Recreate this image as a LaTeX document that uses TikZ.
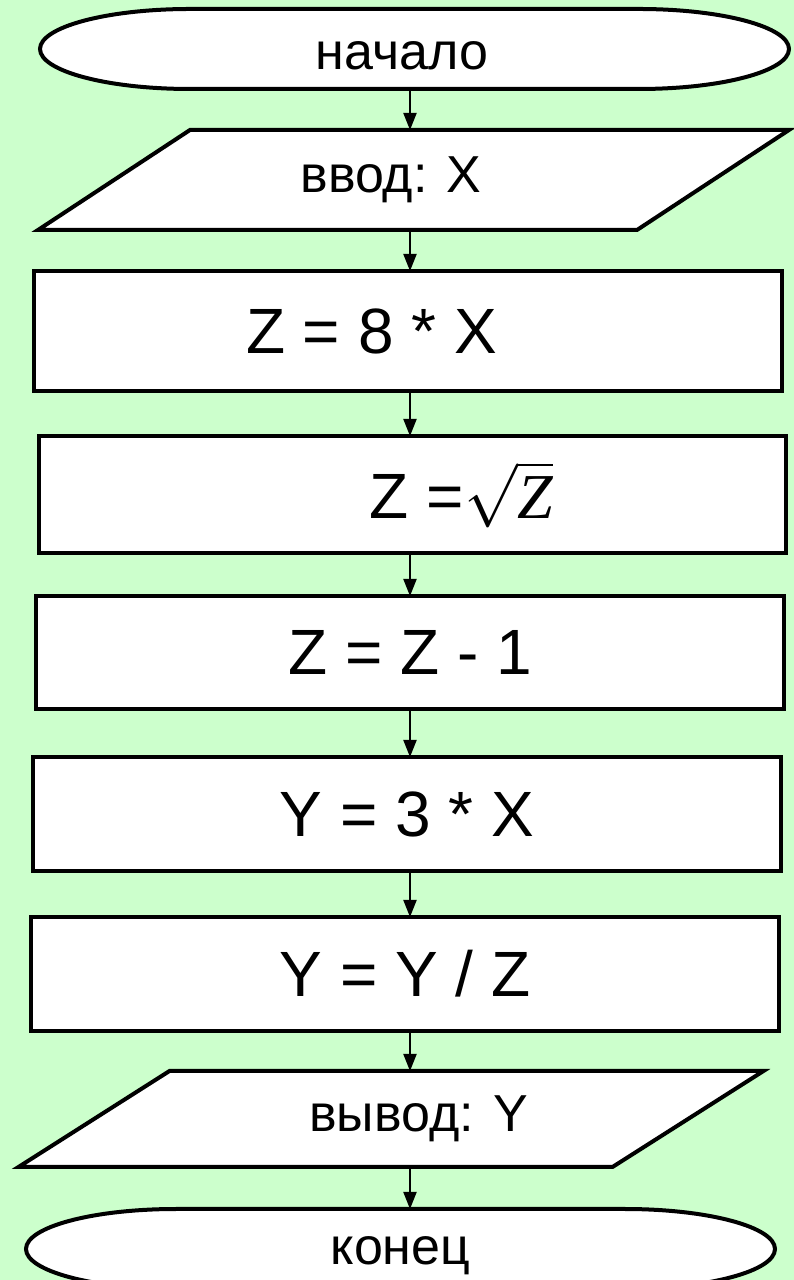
\RequirePackage{fix-cm}
\documentclass[tikz,border=0pt]{standalone}
\usepackage{fontspec}
\setmainfont{Liberation Sans}
\newfontfamily\serifface{Liberation Serif}
\usetikzlibrary{arrows.meta}
\definecolor{flowBack}{HTML}{CCFFCC}
\pgfdeclarelayer{shapes}
\pgfsetlayers{shapes,main}

% outline of a terminal (elliptic ends) around a named node
\newcommand{\terminalshape}[1]{%
  \draw[outline] ([xshift=150pt]#1.north west) -- ([xshift=-150pt]#1.north east)
    arc[start angle=90, end angle=-90, x radius=150pt, y radius=40pt]
    -- ([xshift=150pt]#1.south west)
    arc[start angle=270, end angle=90, x radius=150pt, y radius=40pt] -- cycle;}
% outline of an input/output parallelogram around a named node
\newcommand{\ioshape}[2]{%
  \draw[outline] ([xshift=#2]#1.north west) -- ([xshift=#2]#1.north east)
    -- ([xshift=-#2]#1.south east) -- ([xshift=-#2]#1.south west) -- cycle;}

\begin{document}
\begin{tikzpicture}[
  x=1pt, y=1pt,
  bigtext/.style={font=\fontsize{64}{70}\selectfont},
  smalltext/.style={font=\fontsize{52}{60}\selectfont},
  outline/.style={draw=black, line width=4pt, fill=white, line join=miter},
  box/.style={outline, inner sep=0pt, outer sep=0pt, minimum width=748pt, bigtext},
  terminal/.style={inner sep=0pt, outer sep=0pt, minimum width=749pt, smalltext},
  io/.style={inner sep=0pt, outer sep=0pt, smalltext},
  a/.style={-{Triangle[length=17pt, width=13pt]}, line width=2pt}
]
\useasboundingbox (0,0) rectangle (794,1280);
\begin{pgfonlayer}{shapes}
  \fill[flowBack] (0,0) rectangle (794,1280);
\end{pgfonlayer}
\coordinate (spine) at (410,0);

\node[terminal, text height=61pt, text depth=19pt] (start) at (414.5,1231) {начало\hspace*{25pt}};
\node[io, minimum width=599pt, minimum height=100pt] (input) at (413.5,1100) {ввод: X\hspace*{45pt}};
\node[box, minimum height=120pt] (boxa) at (408,949) {Z = 8 * X\hspace*{73pt}};
\node[box, minimum height=117pt, minimum width=747pt] (boxb) at (412.5,785.5)
  {\hspace*{98pt}Z =$\sqrt{\hbox{\serifface\itshape Z}}$};
\node[box, minimum height=113pt] (boxc) at (410,627.5) {Z = Z - 1};
\node[box, minimum height=114pt] (boxd) at (407,466) {Y = 3 * X};
\node[box, minimum height=114pt] (boxe) at (405,306) {Y = Y / Z};
\node[io, minimum width=594pt, minimum height=96pt] (output) at (391,161) {\hspace*{55pt}вывод: Y};
\node[terminal, text height=56pt, text depth=24pt] (stop) at (400.5,31) {конец};

\begin{pgfonlayer}{shapes}
  \terminalshape{start}
  \ioshape{input}{76pt}
  \ioshape{output}{75.5pt}
  \terminalshape{stop}
\end{pgfonlayer}

\draw[a] (start.south -| spine) -- (input.north -| spine);
\draw[a] (input.south -| spine) -- (boxa.north -| spine);
\draw[a] (boxa.south -| spine) -- (boxb.north -| spine);
\draw[a] (boxb.south -| spine) -- (boxc.north -| spine);
\draw[a] (boxc.south -| spine) -- (boxd.north -| spine);
\draw[a] (boxd.south -| spine) -- (boxe.north -| spine);
\draw[a] (boxe.south -| spine) -- (output.north -| spine);
\draw[a] (output.south -| spine) -- (stop.north -| spine);
\end{tikzpicture}
\end{document}
